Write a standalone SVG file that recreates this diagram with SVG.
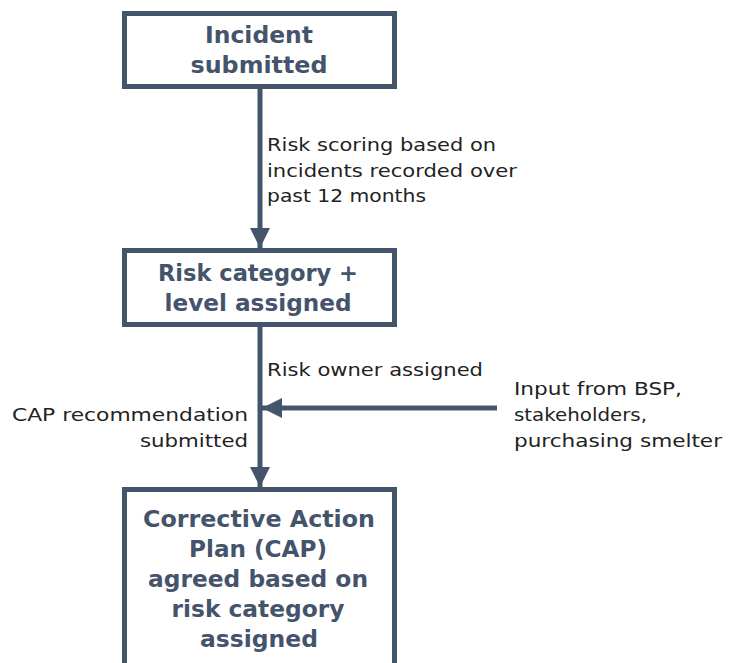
<svg xmlns="http://www.w3.org/2000/svg" width="730" height="663" viewBox="0 0 730 663">
<style>
.box{fill:#fff;stroke:#44546a;stroke-width:5}
.t{font-family:"DejaVu Sans","Liberation Sans",sans-serif;font-weight:700;font-size:23.500px;fill:#44546a;text-anchor:middle}
.l{font-family:"DejaVu Sans","Liberation Sans",sans-serif;font-size:18.500px;fill:#222}
.c{stroke:#44546a;stroke-width:5;fill:none}
</style>
<defs>
<marker id="ah" viewBox="0 0 10 10" refX="10" refY="5" markerWidth="4" markerHeight="4" orient="auto" markerUnits="strokeWidth">
<path d="M0,0 L10,5 L0,10 z" fill="#44546a"/>
</marker>
</defs>
<rect width="730" height="663" fill="#fff"/>
<g id="connectors">
<line class="c" x1="260" y1="89" x2="260" y2="248" marker-end="url(#ah)"/>
<line class="c" x1="260" y1="327" x2="260" y2="487" marker-end="url(#ah)"/>
<line class="c" x1="497" y1="408" x2="262" y2="408" marker-end="url(#ah)"/>
</g>
<g id="n1">
<rect class="box" x="124.500" y="13.500" width="270" height="73"/>
<text class="t" x="259" y="43" textLength="108" lengthAdjust="spacingAndGlyphs">Incident</text>
<text class="t" x="259" y="73" textLength="137" lengthAdjust="spacingAndGlyphs">submitted</text>
</g>
<g id="n2">
<rect class="box" x="124.500" y="250.500" width="270" height="74"/>
<text class="t" x="258" y="281" textLength="200" lengthAdjust="spacingAndGlyphs">Risk category +</text>
<text class="t" x="258" y="311" textLength="187" lengthAdjust="spacingAndGlyphs">level assigned</text>
</g>
<g id="n3">
<rect class="box" x="124.500" y="489.500" width="270" height="190"/>
<text class="t" x="259" y="527" textLength="232" lengthAdjust="spacingAndGlyphs">Corrective Action</text>
<text class="t" x="258" y="557" textLength="138" lengthAdjust="spacingAndGlyphs">Plan (CAP)</text>
<text class="t" x="258" y="587" textLength="220" lengthAdjust="spacingAndGlyphs">agreed based on</text>
<text class="t" x="258" y="617" textLength="173" lengthAdjust="spacingAndGlyphs">risk category</text>
<text class="t" x="259" y="647" textLength="118" lengthAdjust="spacingAndGlyphs">assigned</text>
</g>
<g id="labels">
<text class="l" x="267" y="151" textLength="229" lengthAdjust="spacingAndGlyphs">Risk scoring based on</text>
<text class="l" x="267" y="177" textLength="250" lengthAdjust="spacingAndGlyphs">incidents recorded over</text>
<text class="l" x="267" y="202" textLength="159" lengthAdjust="spacingAndGlyphs">past 12 months</text>
<text class="l" x="267" y="376" textLength="216" lengthAdjust="spacingAndGlyphs">Risk owner assigned</text>
<text class="l" x="12" y="421" textLength="236" lengthAdjust="spacingAndGlyphs">CAP recommendation</text>
<text class="l" x="140" y="447" textLength="108" lengthAdjust="spacingAndGlyphs">submitted</text>
<text class="l" x="514" y="395" textLength="168" lengthAdjust="spacingAndGlyphs">Input from BSP,</text>
<text class="l" x="514" y="421" textLength="133" lengthAdjust="spacingAndGlyphs">stakeholders,</text>
<text class="l" x="514" y="447" textLength="208" lengthAdjust="spacingAndGlyphs">purchasing smelter</text>
</g>
</svg>
